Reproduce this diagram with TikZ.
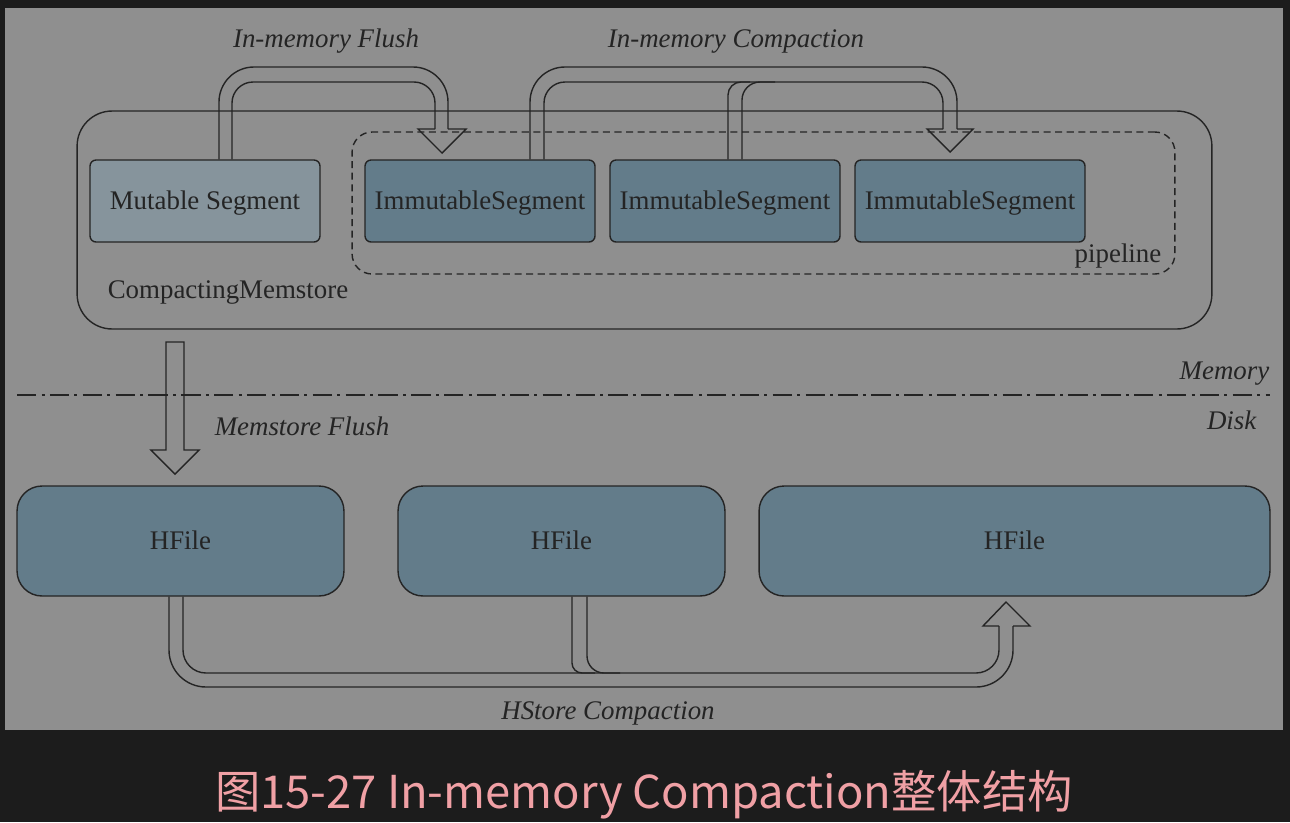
\documentclass[tikz,border=0pt]{standalone}
\usepackage{fontspec}
\setmainfont{Liberation Serif}
\newfontfamily\cjk{Noto Sans CJK SC}
\usetikzlibrary{positioning}

\definecolor{darkbg}{RGB}{28,28,28}
\definecolor{panelgrey}{RGB}{143,143,143}
\definecolor{segblue}{RGB}{99,124,138}
\definecolor{mutgrey}{RGB}{134,148,156}
\definecolor{inkline}{RGB}{36,36,36}
\definecolor{capink}{RGB}{240,160,165}

\tikzset{
  seg/.style={draw=inkline, fill=segblue, rounded corners=0.12cm, inner sep=0pt,
    minimum width=4.6cm, minimum height=1.64cm, text depth=0.1em, font=\fontsize{15.3}{18}\selectfont},
  hfile/.style={seg, rounded corners=0.5cm, minimum width=6.54cm, minimum height=2.2cm},
  lbl/.style={inner sep=0pt, font=\fontsize{15.3}{18}\selectfont\itshape},
  txt/.style={inner sep=0pt, font=\fontsize{15.3}{18}\selectfont}
}

\begin{document}
\begin{tikzpicture}[x=0.02cm, y=-0.02cm, line width=0.8pt, inkline]
\fill [darkbg] (0,0) rectangle (1290,822);
\fill [panelgrey] (5,8) rectangle (1283,730);

% memory side
\node [draw, rounded corners=0.7cm, minimum width=22.7cm, minimum height=4.36cm] (mem) at (644.5,220) {};
\node [draw, dash pattern=on 4pt off 2.6pt, rounded corners=0.4cm, minimum width=16.46cm, minimum height=2.84cm] (pipe) at (763.5,203) {};
\node [seg, fill=mutgrey] (mut) at (205,201) {Mutable Segment};
\node [seg] (imm1) at (480,201) {ImmutableSegment};
\node [seg] (imm2) at (725,201) {ImmutableSegment};
\node [seg] (imm3) at (970,201) {ImmutableSegment};
\node [txt] (pipelbl) at (1118,256) {pipeline};
\node [txt] (memlbl) at (228,292) {CompactingMemstore};

% in-memory flush
\draw [rounded corners=0.7cm] (219,0 |- mut.north) -- (219,67) -- (448,67) -- (448,129);
\draw (448,129) -- (466,129) -- (442,153) -- (418,129) -- (435,129);
\draw [rounded corners=0.42cm] (435,129) -- (435,82) -- (232,82) -- (232,0 |- mut.north);
\node [lbl] (flushlbl) at (326,41) {In-memory Flush};

% in-memory compaction
\draw [rounded corners=0.7cm] (530,0 |- imm1.north) -- (530,67) -- (957,67) -- (957,129);
\draw (957,129) -- (973,129) -- (950,152) -- (927,129) -- (943,129);
\draw [rounded corners=0.42cm] (943,129) -- (943,82) -- (544,82) -- (544,0 |- imm1.north);
\draw [rounded corners=0.26cm] (728,0 |- imm2.north) -- (728,82) -- (750,82);
\draw [rounded corners=0.36cm] (742,0 |- imm2.north) -- (742,82) -- (775,82);
\node [lbl] (complbl) at (736,41) {In-memory Compaction};

% memory / disk
\draw [dash pattern=on 11pt off 3pt on 1.7pt off 3pt] (17,395) -- (1270,395);
\node [lbl, anchor=east] (memory) at (1270,374) {Memory};
\node [lbl, anchor=east] (disk) at (1257,420) {Disk};

% memstore flush
\draw (166,342) -- (184,342) -- (184,450) -- (199,450) -- (175,474) -- (151,450) -- (166,450) -- cycle;
\node [lbl] (mflushlbl) at (302,426) {Memstore Flush};

% disk side
\node [hfile] (hf1) at (180.5,541) {HFile};
\node [hfile] (hf2) at (561.5,541) {HFile};
\node [hfile, minimum width=10.22cm] (hf3) at (1014.5,541) {HFile};

% hstore compaction
\draw [rounded corners=0.74cm] (169,0 |- hf1.south) -- (169,687) -- (1013,687) -- (1013,626);
\draw (1013,626) -- (1030,626) -- (1006,602) -- (983,626) -- (999,626);
\draw [rounded corners=0.46cm] (999,626) -- (999,673) -- (183,673) -- (183,0 |- hf1.south);
\draw [rounded corners=0.2cm] (572,0 |- hf2.south) -- (572,673) -- (595,673);
\draw [rounded corners=0.34cm] (587,0 |- hf2.south) -- (587,673) -- (620,673);
\node [lbl] (hstorelbl) at (608,713) {HStore Compaction};

\node [text=capink, inner sep=0pt, font=\cjk\fontsize{25.8}{30}\selectfont] (caption) at (644,795) {图15-27 In-memory Compaction整体结构};
\end{tikzpicture}
\end{document}
